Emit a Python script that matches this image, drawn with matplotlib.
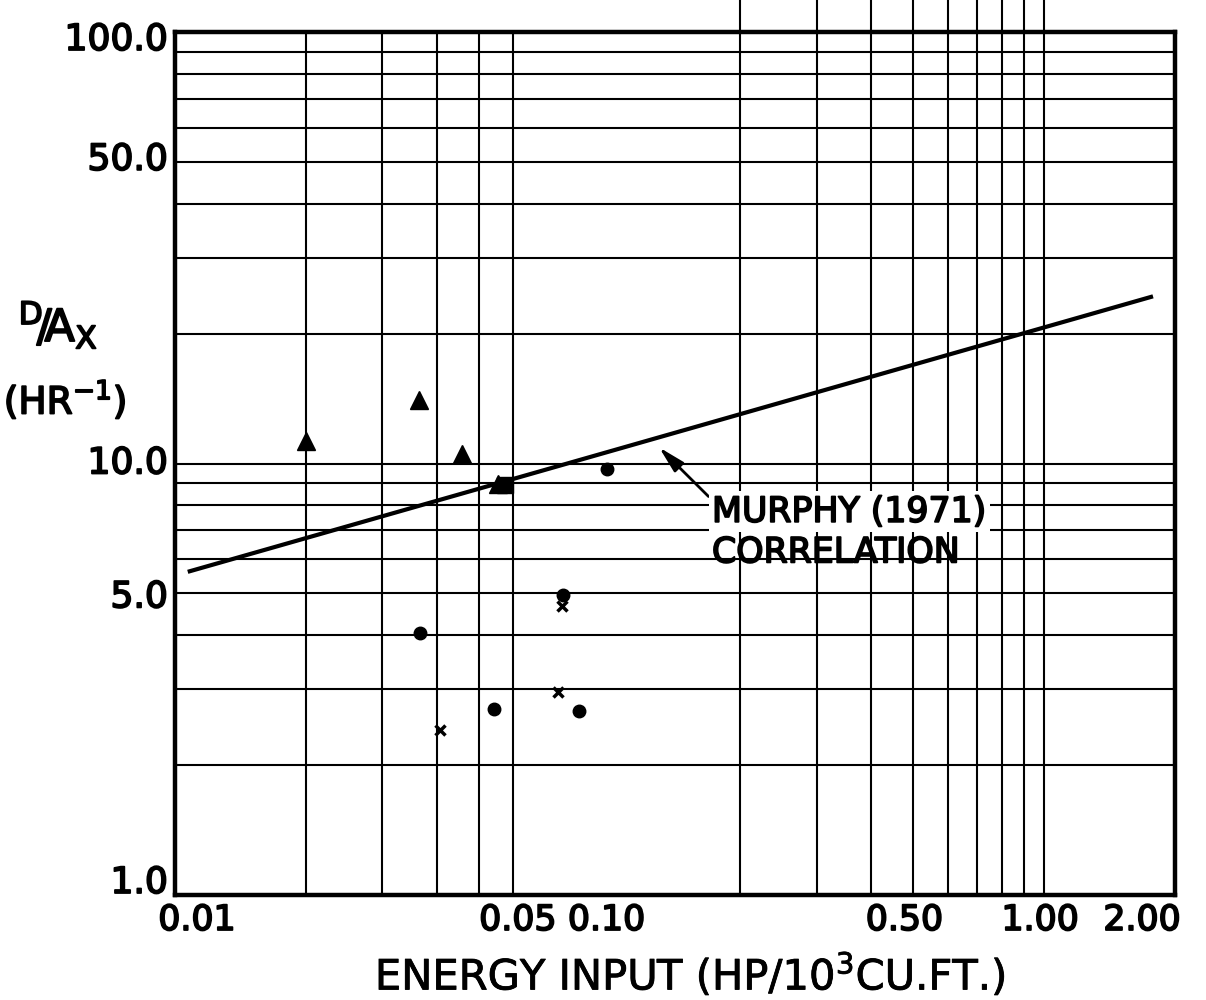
import matplotlib
matplotlib.use("Agg")
import matplotlib.pyplot as plt
import matplotlib.patheffects as pe
from matplotlib.transforms import offset_copy

# points
tri_x = [0.0200, 0.0364, 0.0457, 0.0553]
tri_y = [11.3, 14.0, 10.5, 8.95]
sq_x = [0.0575]
sq_y = [8.9]
dot_x = [0.0366, 0.0542, 0.0781, 0.0851, 0.0986]
dot_y = [4.05, 2.70, 4.95, 2.67, 9.7]
cross_x = [0.0407, 0.0760, 0.0777]
cross_y = [2.41, 2.95, 4.68]

# Murphy (1971) correlation, end points of the straight line
murphy_x = [0.0107, 1.78]
murphy_y = [5.61, 24.4]

x_ticks = [0.01, 0.05, 0.10, 0.50, 1.00, 2.00]
x_labels = ["0.01", "0.05", "0.10", "0.50", "1.00", "2.00"]
y_ticks = [1.0, 5.0, 10.0, 50.0, 100.0]
y_labels = ["1.0", "5.0", "10.0", "50.0", "100.0"]

# graph paper lines (the 0.07-0.10 lines are missing on the original)
x_grid = [0.02, 0.03, 0.04, 0.05, 0.06, 0.2, 0.3, 0.4, 0.5, 0.6, 0.7, 0.8, 0.9, 1.0]
y_grid = [2, 3, 4, 5, 6, 7, 8, 9, 10, 20, 30, 40, 50, 60, 70, 80, 90]

plt.rcParams['font.family'] = ['DejaVu Sans']

# heavier strokes, like the stencil lettering
heavy = [pe.withStroke(linewidth=1.3, foreground='black')]
light = [pe.withStroke(linewidth=0.6, foreground='black')]

fig = plt.figure(figsize=(12.06, 10), dpi=100)
ax = fig.add_axes([0.1451, 0.105, 0.8292, 0.863])
ax.set_xscale('log')
ax.set_yscale('log')
ax.set_xlim(0.01, 2.0)
ax.set_ylim(1.0, 100.0)

for gx in x_grid:
    top = 1.0
    if gx >= 0.2:
        top = 1.037  # these lines run off the top of the sheet
    ax.axvline(gx, ymin=0, ymax=top, color='black', lw=1.5, clip_on=False, zorder=1)
for gy in y_grid:
    ax.axhline(gy, color='black', lw=1.5, zorder=1)

for s in ax.spines.values():
    s.set_linewidth(3.2)
ax.set_xticks([])
ax.set_yticks([])
ax.minorticks_off()

# hand lettered tick labels, nudged like in the original (pixels)
x_nudge = [22, 39, -3, -9, -4, -33]
for v, lab, dx in zip(x_ticks, x_labels, x_nudge):
    tr = offset_copy(ax.get_xaxis_transform(), fig=fig, x=dx, y=-25, units='dots')
    ax.text(v, 0, lab, transform=tr, ha='center', va='center', fontsize=25,
            path_effects=heavy)
y_nudge = [12, -4, 0, 2, -8]
for v, lab, dy in zip(y_ticks, y_labels, y_nudge):
    tr = offset_copy(ax.get_yaxis_transform(), fig=fig, x=-7, y=dy, units='dots')
    ax.text(0, v, lab, transform=tr, ha='right', va='center', fontsize=26,
            path_effects=heavy)

ax.plot(murphy_x, murphy_y, color='black', lw=3, solid_capstyle='butt', zorder=3)

ax.plot(tri_x, tri_y, ls='none', marker='^', ms=13, color='black', zorder=4)
ax.plot(sq_x, sq_y, ls='none', marker='s', ms=11, color='black', zorder=4)
ax.plot(dot_x, dot_y, ls='none', marker='o', ms=9, color='black', zorder=4)
ax.plot(cross_x, cross_y, ls='none', marker='x', ms=7, mew=2.5, color='black', zorder=4)

ax.annotate('MURPHY (1971)', xy=(0.13, 10.9), xytext=(0.537, 0.444),
            textcoords='axes fraction', ha='left', va='center', fontsize=25,
            path_effects=heavy,
            bbox=dict(boxstyle='square,pad=0.1', fc='white', ec='none'),
            arrowprops=dict(arrowstyle='-|>,head_length=0.8,head_width=0.2',
                            mutation_scale=20, color='black', lw=2,
                            shrinkA=0, shrinkB=0, relpos=(0.0, 0.85)),
            zorder=5)
ax.text(0.537, 0.397, 'CORRELATION', transform=ax.transAxes, ha='left', va='center',
        fontsize=25, path_effects=heavy, zorder=5)

fig.text(690 / 1206, 1 - 975 / 1000, r'ENERGY INPUT (HP/10$^3$CU.FT.)',
         ha='center', va='center', fontsize=30, path_effects=light)
fig.text(58 / 1206, 1 - 325 / 1000, r'$\mathregular{^{D}\!/\!A_{X}}$',
         ha='center', va='center', fontsize=32, path_effects=heavy)
fig.text(65 / 1206, 1 - 400 / 1000, r'$\mathregular{(HR^{-1})}$',
         ha='center', va='center', fontsize=27, path_effects=heavy)

fig.savefig('out.png', dpi=100, facecolor='white')
